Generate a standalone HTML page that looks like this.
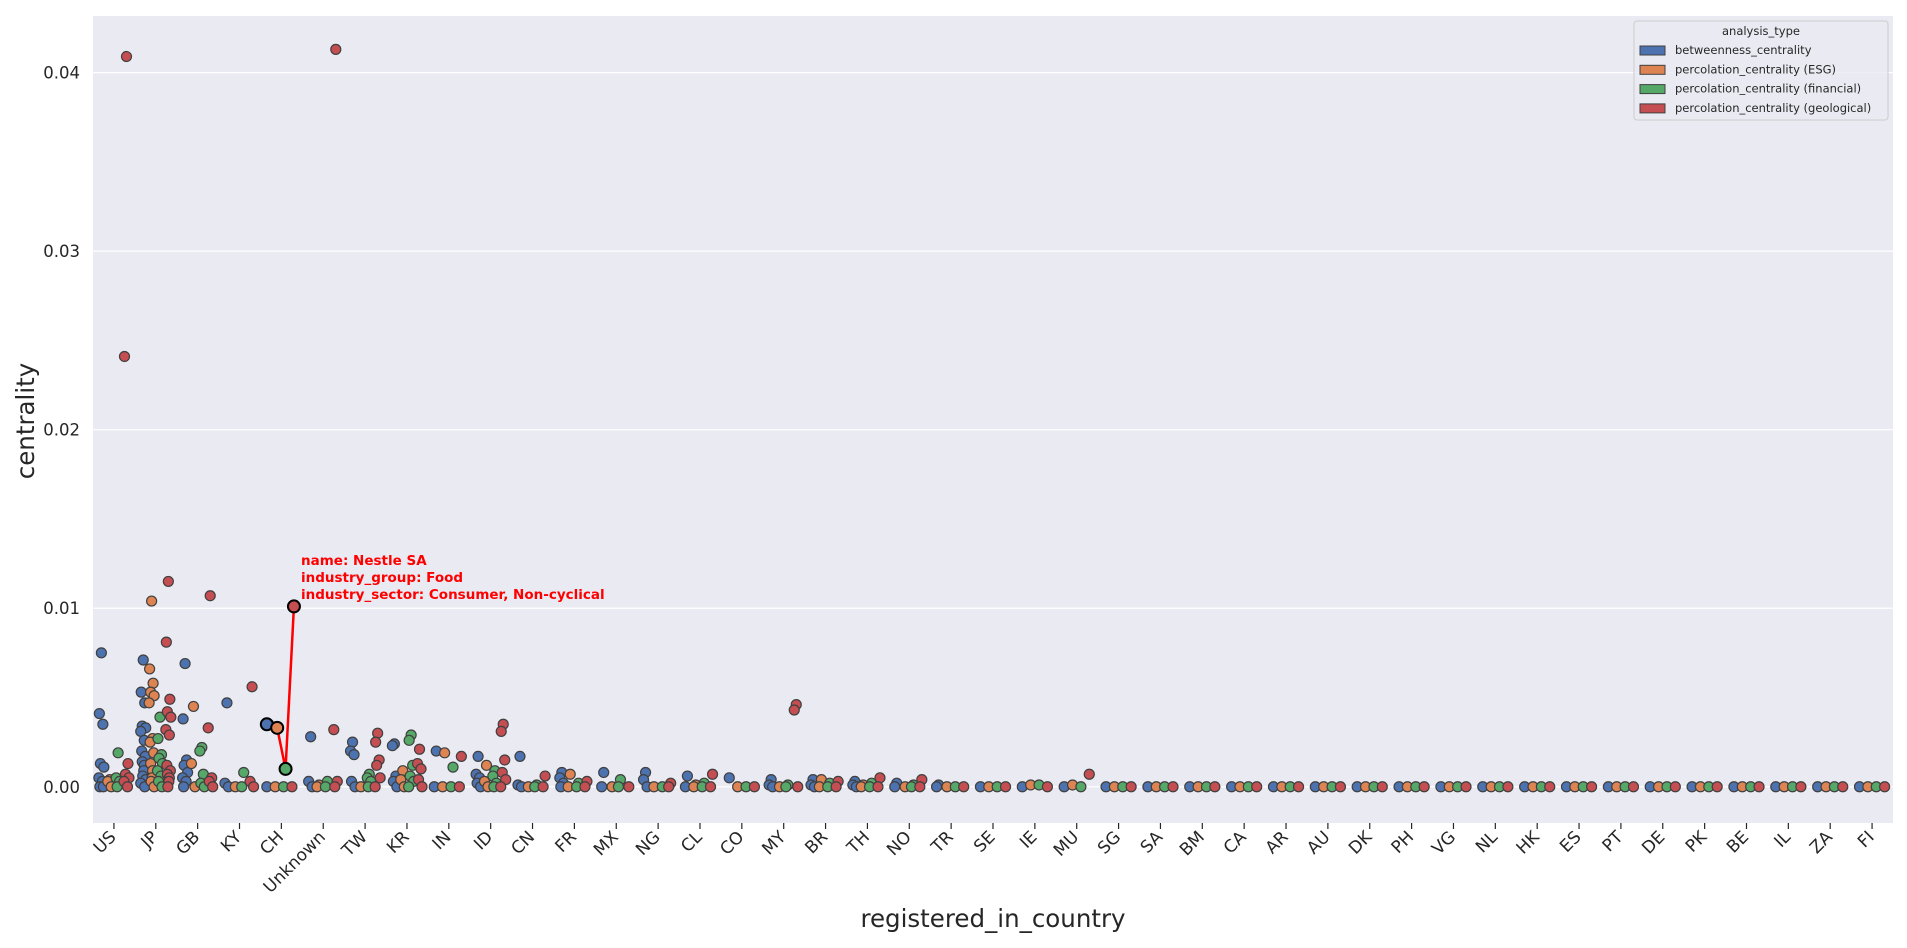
<!DOCTYPE html>
<html><head><meta charset="utf-8"><style>
body{margin:0;background:#fff;}
svg{display:block;font-family:"DejaVu Sans","Liberation Sans",sans-serif;}
</style></head><body>
<svg id="chart" width="1907" height="948"></svg>
<script>
const categories=["US","JP","GB","KY","CH","Unknown","TW","KR","IN","ID","CN","FR","MX","NG","CL","CO","MY","BR","TH","NO","TR","SE","IE","MU","SG","SA","BM","CA","AR","AU","DK","PH","VG","NL","HK","ES","PT","DE","PK","BE","IL","ZA","FI"];
const hueNames=["betweenness_centrality","percolation_centrality (ESG)","percolation_centrality (financial)","percolation_centrality (geological)"];
const betweenness=[[0.0075,0.0041,0.0035,0.0013,0.0011,0.0005,0.0003,0,0],[0.0071,0.0053,0.0047,0.0034,0.0033,0.0031,0.0026,0.002,0.0017,0.0014,0.0012,0.0009,0.0006,0.0004,0.0002,0],[0.0069,0.0038,0.0015,0.0012,0.0008,0.0005,0.0003,0],[0.0047,0.0002,0],[0.0035,0],[0.0028,0.0003,0],[0.0025,0.002,0.0018,0.0003,0],[0.0024,0.0023,0.0006,0.0003,0],[0.002,0],[0.0017,0.0007,0.0005,0.0002,0],[0.0017,0.0001,0],[0.0008,0.0005,0.0002,0],[0.0008,0],[0.0008,0.0004,0],[0.0006,0],[0.0005],[0.0004,0.0001,0],[0.0004,0.0001,0],[0.0003,0.0001,0],[0.0002,0],[0.0001,0],[0],[0],[0],[0],[0],[0],[0],[0],[0],[0],[0],[0],[0],[0],[0],[0],[0],[0],[0],[0],[0],[0]];
const esg=[[0.0004,0.0003,0],[0.0104,0.0066,0.0058,0.0053,0.0051,0.0047,0.0027,0.0025,0.0019,0.0013,0.0009,0.0005,0.0003,0],[0.0045,0.0013,0],[0],[0.0033,0],[0.0001,0],[0],[0.0009,0.0004,0],[0.0019,0],[0.0012,0.0003,0],[0],[0.0007,0],[0],[0],[0.0001,0],[0],[0],[0.0004,0],[0.0001,0],[0],[0],[0],[0.0001],[0.0001],[0],[0],[0],[0],[0],[0],[0],[0],[0],[0],[0],[0],[0],[0],[0],[0],[0],[0],[0]];
const financial=[[0.0019,0.0005,0.0003,0],[0.0039,0.0027,0.0018,0.0016,0.0013,0.0009,0.0006,0.0003,0],[0.0022,0.002,0.0007,0.0002,0],[0.0008,0],[0.001,0],[0.0003,0],[0.0007,0.0005,0.0003,0],[0.0029,0.0026,0.0012,0.0006,0.0003,0],[0.0011,0],[0.0009,0.0006,0.0002,0],[0.0001,0],[0.0002,0],[0.0004,0],[0],[0.0002,0],[0],[0.0001,0],[0.0002,0],[0.0002,0],[0.0001,0],[0],[0],[0.0001],[0],[0],[0],[0],[0],[0],[0],[0],[0],[0],[0],[0],[0],[0],[0],[0],[0],[0],[0],[0]];
const geological=[[0.0409,0.0241,0.0013,0.0007,0.0005,0.0003,0],[0.0115,0.0081,0.0049,0.0042,0.0039,0.0032,0.0029,0.0012,0.0009,0.0007,0.0005,0.0003,0],[0.0107,0.0033,0.0005,0.0003,0],[0.0056,0.0003,0],[0.0101,0],[0.0413,0.0032,0.0003,0],[0.003,0.0025,0.0015,0.0012,0.0005,0],[0.0021,0.0013,0.001,0.0004,0],[0.0017,0],[0.0035,0.0031,0.0015,0.0008,0.0004,0],[0.0006,0],[0.0003,0],[0],[0.0002,0],[0.0007,0],[0],[0.0046,0.0043,0],[0.0003,0],[0.0005,0],[0.0004,0],[0],[0],[0],[0.0007],[0],[0],[0],[0],[0],[0],[0],[0],[0],[0],[0],[0],[0],[0],[0],[0],[0],[0],[0]];
const highlightCategory="CH";
const highlightValues=[0.0035,0.0033,0.001,0.0101];
const yTicks=[0,0.01,0.02,0.03,0.04];
const yTickLabels=["0.00","0.01","0.02","0.03","0.04"];
const annotationLines=["name: Nestle SA","industry_group: Food","industry_sector: Consumer, Non-cyclical"];

const series=[betweenness,esg,financial,geological];
const colors=["#4c72b0","#dd8452","#55a868","#c44e52"];
const L=93,R=1893,T=16,B=823;
const yMin=-0.00203,yMax=0.04317;
const bw=(R-L)/categories.length;
function xScale(i){return L+(i+0.5)*bw;}
function yScale(v){return B-(v-yMin)/(yMax-yMin)*(B-T);}
const NS="http://www.w3.org/2000/svg";
const svg=document.getElementById('chart');
function mk(tag,attrs,parent){const e=document.createElementNS(NS,tag);for(const k in attrs)e.setAttribute(k,attrs[k]);(parent||svg).appendChild(e);return e;}

const bg=mk('rect',{x:L,y:T,width:R-L,height:B-T,fill:'#eaeaf2'});


yTicks.forEach((v,i)=>{
  const g=mk('line',{x1:L,x2:R,y1:yScale(v),y2:yScale(v),stroke:'#fff','stroke-width':1.2});
  
  
  const t=mk('text',{x:L-13,y:yScale(v)+6,'text-anchor':'end','font-size':16.5,fill:'#262626'});
  t.textContent=yTickLabels[i];
  
  
});
categories.forEach((c,i)=>{
  const x=xScale(i);
  const tk=mk('line',{x1:x,x2:x,y1:B,y2:B+6,stroke:'#262626','stroke-width':1.2});
  
  
  const t=mk('text',{x:x+3,y:B+15,'text-anchor':'end','font-size':17,fill:'#262626',transform:`rotate(-45 ${x+3} ${B+15})`});
  t.textContent=c;
  
  
});
const offs=[-0.3,-0.1,0.1,0.3];
const jit=[0,-2,1.5,-1,2.5,-2.5,1,-1.5,2,-1,1,0.5,-0.5,2.5,-2.5,1.5];
series.forEach((s,h)=>{
  s.forEach((vals,ci)=>{
    vals.forEach((v,k)=>{
      const p=mk('circle',{cx:xScale(ci)+offs[h]*bw+jit[k%jit.length],cy:yScale(v),r:5,fill:colors[h],stroke:'#404040','stroke-width':1.2});
      
      
    });
  });
});
const hi=categories.indexOf(highlightCategory);
const hpts=highlightValues.map((v,h)=>[xScale(hi)+offs[h]*bw+(h===0?-2:0),yScale(v)]);
const pl=mk('polyline',{points:hpts.map(p=>p.join(',')).join(' '),fill:'none',stroke:'#ff0000','stroke-width':2.5});


hpts.forEach((p,h)=>{
  const c=mk('circle',{cx:p[0],cy:p[1],r:6,fill:colors[h],stroke:'#000','stroke-width':2});
  
  
});
annotationLines.forEach((s,i)=>{
  const t=mk('text',{x:301,y:565+i*17,'font-size':13.5,'font-weight':'bold',fill:'#ff0000'});
  t.textContent=s;
  
  
});
const yl=mk('text',{x:34,y:421,'text-anchor':'middle','font-size':24.5,fill:'#262626',transform:'rotate(-90 34 421)'});
yl.textContent='centrality';


const xl=mk('text',{x:993,y:927,'text-anchor':'middle','font-size':24.5,fill:'#262626'});
xl.textContent='registered_in_country';


const lg=mk('g',{});


mk('rect',{x:1634,y:21,width:254,height:99,rx:3,fill:'#eaeaf2',stroke:'#cccccc','stroke-width':1,'fill-opacity':0.8},lg);
const lt=mk('text',{x:1761,y:35,'text-anchor':'middle','font-size':11.5,fill:'#262626'},lg);
lt.textContent='analysis_type';
hueNames.forEach((n,i)=>{
  const y=50+i*19.3;
  const r=mk('rect',{x:1640,y:y-4,width:25,height:9,fill:colors[i],stroke:'#404040','stroke-width':1},lg);
  
  
  const t=mk('text',{x:1675,y:y+4,'font-size':11.5,fill:'#262626'},lg);
  t.textContent=n;
  
  
});
</script>
</body></html>
